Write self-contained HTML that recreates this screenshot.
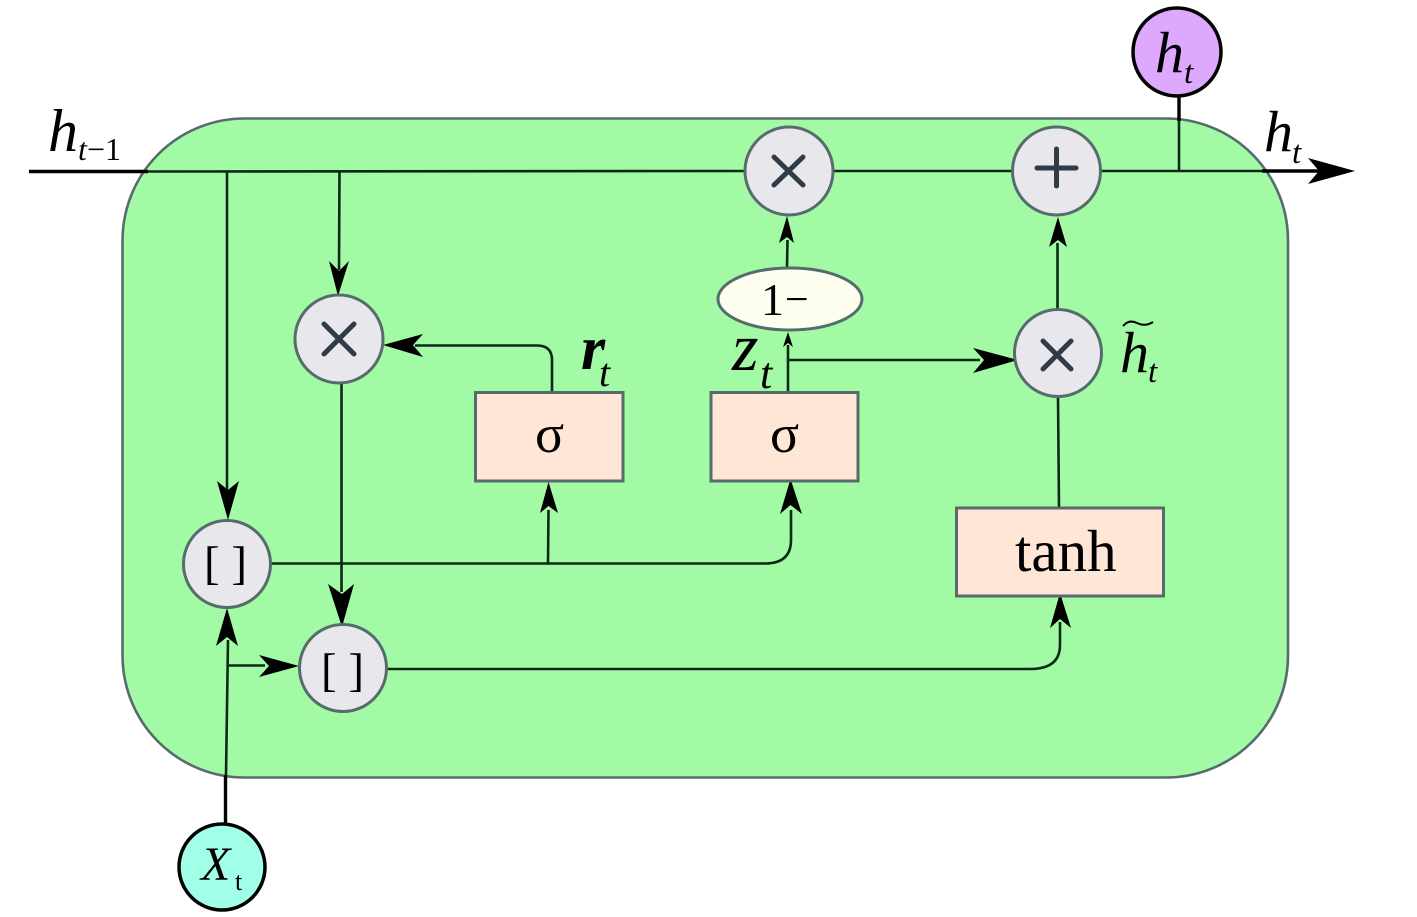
<!DOCTYPE html>
<html>
<head>
<meta charset="utf-8">
<style>
html,body{margin:0;padding:0;background:#fff;width:1417px;height:917px;overflow:hidden}
svg{display:block}
text{font-family:"Liberation Serif",serif;fill:#000}
.i{font-style:italic}
.c{fill:#e8e8ec;stroke:#566c6c;stroke-width:3}
.b{fill:#ffe6d6;stroke:#566c6c;stroke-width:3}
.l{fill:none;stroke:#0b2a14;stroke-width:2.6}
.o{fill:none;stroke:#000;stroke-width:3.4}
.s{fill:none;stroke:#2f3b46;stroke-width:5;stroke-linecap:round}
</style>
</head>
<body>
<svg width="1417" height="917" viewBox="0 0 1417 917" xmlns="http://www.w3.org/2000/svg">
<rect width="1417" height="917" fill="#fff"/>
<rect x="122.500" y="118.500" width="1165.500" height="659" rx="122" ry="122" fill="#a2fba4" stroke="#566c6c" stroke-width="2.6"/>

<!-- outside heavy lines -->
<line class="o" x1="29" y1="171.500" x2="148" y2="171.500"/>
<line class="o" x1="1262" y1="171" x2="1330" y2="171"/>
<line class="o" x1="1179" y1="95" x2="1179" y2="121" stroke-width="3.500"/>
<line class="o" x1="225.500" y1="775" x2="225.500" y2="826" stroke-width="4"/>

<!-- inner lines -->
<line class="l" x1="148" y1="171.500" x2="745" y2="171"/>
<line class="l" x1="834" y1="171" x2="1013" y2="171"/>
<line class="l" x1="1101" y1="171" x2="1262" y2="171"/>
<line class="l" x1="1179" y1="121" x2="1179" y2="171"/>
<line class="l" x1="227" y1="171" x2="227" y2="490"/>
<line class="l" x1="339.500" y1="171" x2="339" y2="270"/>
<line class="l" x1="341.500" y1="384" x2="341.500" y2="592"/>
<path class="l" d="M552 392V360Q552 345.500 537 345.500H415"/>
<line class="l" x1="787" y1="267" x2="787.500" y2="240"/>
<line class="l" x1="788" y1="392" x2="788" y2="345"/>
<line class="l" x1="788" y1="360" x2="980" y2="360"/>
<line class="l" x1="1057.500" y1="309" x2="1057.500" y2="243"/>
<line class="l" x1="1058" y1="397" x2="1059" y2="508"/>
<path class="l" d="M271 563.500H765Q791 563.500 791 540V510"/>
<line class="l" x1="548" y1="563.500" x2="548.500" y2="510"/>
<line class="l" x1="226" y1="775" x2="228" y2="640"/>
<line class="l" x1="228" y1="665.500" x2="265" y2="665.500"/>
<path class="l" d="M387 669H1030Q1060 669 1060 645V622"/>

<!-- arrowheads -->
<polygon points="1355,171 1308,158 1319,171 1308,184" fill="#000"/>
<polygon points="338,296 329,261 339,271 349,261" fill="#000"/>
<polygon points="228,520 217,481 228,490 239,481" fill="#000"/>
<polygon points="342,627 328,584 342,594 354,584" fill="#000"/>
<polygon points="383,345 423,334 413,345 423,357" fill="#000"/>
<polygon points="787,216 779,243 787,237 794,243" fill="#000"/>
<polygon points="1058,217 1049,247 1058,240 1067,247" fill="#000"/>
<polygon points="788,332 783,347 788,343 793,347" fill="#000"/>
<polygon points="1018,360 973,348 984,360 973,373" fill="#000"/>
<polygon points="548.500,482 540,513 548.500,506 558,513" fill="#000"/>
<polygon points="790.500,479 780,514 790.500,505 802,514" fill="#000"/>
<polygon points="1060,593 1050,628 1060,619 1071,628" fill="#000"/>
<polygon points="227,608 216,646 227,637 238,646" fill="#000"/>
<polygon points="299,666 259,655 269,666 259,677" fill="#000"/>

<!-- nodes -->
<circle class="c" cx="339" cy="339" r="44"/>
<path class="s" d="M324 324L354 354M354 324L324 354"/>
<circle class="c" cx="789" cy="171" r="44"/>
<path class="s" d="M774 157L803 185M803 157L774 185"/>
<circle class="c" cx="1056.500" cy="171" r="44"/>
<path class="s" d="M1037 168H1076M1056.500 149V186"/>
<circle class="c" cx="1058" cy="353" r="43.500"/>
<path class="s" d="M1043 341L1071 369M1071 341L1043 369"/>
<circle class="c" cx="227" cy="564" r="43.500"/>
<circle class="c" cx="343" cy="668" r="43.500"/>

<rect class="b" x="475.500" y="392.500" width="147.500" height="88.500"/>
<rect class="b" x="711" y="392.500" width="147" height="88.500"/>
<rect class="b" x="956.500" y="508" width="207" height="88" stroke-width="2.6"/>
<ellipse cx="790" cy="299" rx="72" ry="31" fill="#fdfeee" stroke="#566c6c" stroke-width="3"/>

<circle cx="222" cy="867" r="43" fill="#a0ffe6" stroke="#000" stroke-width="3.500"/>
<circle cx="1177" cy="52" r="44" fill="#dfa8ff" stroke="#000" stroke-width="3.500"/>

<!-- labels -->
<text x="48" y="151" class="i" font-size="60">h</text>
<text x="78" y="160" class="i" font-size="32">t</text>
<text x="87" y="160" font-size="32">−1</text>

<text x="1155" y="72" class="i" font-size="58">h</text>
<text x="1184" y="83" class="i" font-size="33">t</text>

<text x="1264" y="151" class="i" font-size="58">h</text>
<text x="1292" y="163" class="i" font-size="33">t</text>

<text x="581" y="369" class="i" font-weight="bold" font-size="62">r</text>
<text x="599" y="386" class="i" font-size="40">t</text>

<text x="732" y="370" class="i" font-size="68">z</text>
<text x="760" y="388" class="i" font-size="44">t</text>

<text x="1120" y="372" class="i" font-size="58">h</text>
<text x="1148" y="382" class="i" font-size="33">t</text>
<path d="M1123 326Q1129 319 1137 323T1153 322" fill="none" stroke="#000" stroke-width="2"/>

<text x="761" y="315" font-size="46">1</text>
<text x="785" y="313" font-size="42">−</text>

<text x="535" y="452" font-size="54">σ</text>
<text x="770" y="452" font-size="54">σ</text>
<text x="1015" y="571" font-size="59">tanh</text>

<text x="204" y="579" font-size="47">[ ]</text>
<text x="321" y="686" font-size="47">[ ]</text>

<text x="201" y="880" class="i" font-size="48">X</text>
<text x="235" y="890" font-size="26">t</text>
</svg>
</body>
</html>
